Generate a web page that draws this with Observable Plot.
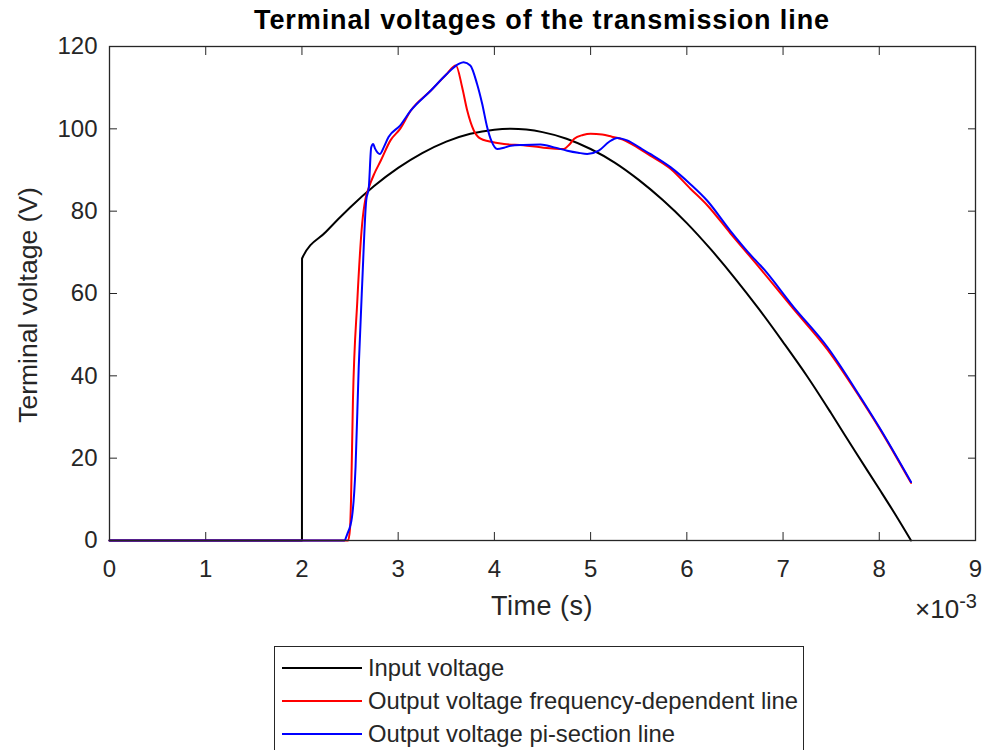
<!DOCTYPE html>
<html>
<head>
<meta charset="utf-8">
<script src="https://cdn.jsdelivr.net/npm/d3@7"></script>
<script src="https://cdn.jsdelivr.net/npm/@observablehq/plot@0.6"></script>
<style>
  body { margin: 0; background: #fff; }
  #wrap { position: relative; width: 984px; height: 750px; overflow: hidden; background: #fff;
          font-family: "Liberation Sans", Arial, Helvetica, sans-serif; color: #262626; }
  #chart { position: absolute; left: 0; top: 0; }
  .lbl { position: absolute; line-height: 1; white-space: nowrap; transform: translate(-50%, -50%); }
  #title { font-weight: bold; font-size: 27px; letter-spacing: 0.9px; color: #000; }
  #xlab { font-size: 27px; letter-spacing: 0.5px; }
  #ylab { font-size: 26.5px; transform: translate(-50%, -50%) rotate(-90deg); }
  #mult { font-size: 26px; transform: translate(-100%, -50%); }
  #mult sup { font-size: 20px; position: relative; top: -1px; }
  #legend { position: absolute; left: 274px; top: 646px; width: 530px; height: 110px;
            border: 1px solid #262626; background: #fff; box-sizing: border-box; }
  .item { position: absolute; left: 0; height: 0; }
  .swatch { position: absolute; left: 7px; width: 80px; top: -1px; height: 0; border-top: 2px solid; }
  .itxt { position: absolute; left: 93px; top: 0; transform: translateY(-52%); font-size: 23.8px;
          line-height: 1; white-space: nowrap; color: #262626; }
</style>
</head>
<body>
<div id="wrap">
  <div id="chart"></div>
  <div id="title" class="lbl"></div>
  <div id="xlab" class="lbl"></div>
  <div id="ylab" class="lbl"></div>
  <div id="mult" class="lbl">×10<sup>-3</sup></div>
  <div id="legend"></div>
</div>
<script>
// ---- data (time in units of 10^-3 s, voltage in V) ----
const titleText = "Terminal voltages of the transmission line";
const xLabel = "Time (s)";
const yLabel = "Terminal voltage (V)";
const seriesNames = ["Input voltage", "Output voltage frequency-dependent line", "Output voltage pi-section line"];
const seriesColors = ["#000000", "#ff0000", "#0000ff"];
const xTicks = [0, 1, 2, 3, 4, 5, 6, 7, 8, 9];
const yTicks = [0, 20, 40, 60, 80, 100, 120];

const inputTime = [0, 2, 2.001, 2.25, 2.5, 2.75, 3, 3.25, 3.5, 3.75, 4, 4.17, 4.5, 4.75, 5, 5.25, 5.5, 5.75, 6, 6.25, 6.5, 6.75, 7, 7.25, 7.5, 7.75, 8, 8.17, 8.33];
const inputVolt = [0, 0, 68.5, 75.0, 80.9, 86.1, 90.5, 94.1, 96.9, 98.8, 99.8, 100, 99.2, 97.6, 95.1, 91.8, 87.6, 82.7, 77.1, 70.7, 63.7, 56.2, 48.2, 39.9, 30.9, 21.6, 12.5, 6.2, 0];

const fdTime = [0, 2.48, 2.5, 2.51, 2.53, 2.575, 2.626, 2.66, 2.69, 2.75, 2.82, 2.92, 3.02, 3.13, 3.34, 3.5, 3.6, 3.665, 3.717, 3.786, 3.856, 3.94, 4.1, 4.3, 4.48, 4.72, 4.78, 4.83, 4.92, 5.0, 5.12, 5.22, 5.31, 5.45, 5.62, 5.83, 6.04, 6.21, 6.45, 6.70, 7.11, 7.46, 7.805, 8.0, 8.33];
const fdVolt = [0, 0, 3, 9.7, 34, 58, 77, 83, 85.4, 89, 92.3, 97.2, 100, 104.4, 109.3, 113.2, 115.4, 110.1, 104.5, 99.6, 97.6, 97, 96.3, 96, 95.5, 95.1, 96.2, 97.6, 98.5, 98.8, 98.6, 98.1, 97.6, 96, 93.5, 90.3, 85.4, 81.5, 74.7, 67.8, 56.2, 46.4, 34.5, 27.3, 14.0];

const piTime = [0, 2.44, 2.47, 2.52, 2.557, 2.59, 2.626, 2.668, 2.695, 2.72, 2.74, 2.76, 2.81, 2.85, 2.90, 3.02, 3.13, 3.34, 3.5, 3.63, 3.68, 3.75, 3.82, 3.873, 3.925, 3.97, 4.03, 4.1, 4.17, 4.3, 4.48, 4.62, 4.757, 4.87, 4.965, 5.085, 5.19, 5.276, 5.38, 5.52, 5.62, 5.83, 6.04, 6.21, 6.45, 6.70, 6.766, 7.11, 7.46, 7.805, 8.0, 8.33];
const piVolt = [0, 0, 1.5, 5.7, 17.8, 42.1, 62.3, 82.6, 85.8, 95.5, 96.3, 95.2, 93.9, 95.5, 98, 100.8, 104.4, 109.3, 113.2, 115.8, 116.2, 115.4, 110.9, 106.1, 100.4, 97, 95.1, 95.4, 95.9, 96.1, 96.2, 95.5, 94.7, 94.2, 93.9, 94.7, 96.8, 97.8, 97.2, 95.3, 93.9, 90.7, 86.5, 82.6, 75.3, 68.4, 66.8, 56.7, 47, 34.8, 27.5, 14.2];

// ---- build table ----
const rows = [];
[[inputTime, inputVolt], [fdTime, fdVolt], [piTime, piVolt]].forEach(([ts, vs], i) => {
  ts.forEach((t, j) => rows.push({t, v: vs[j], s: seriesNames[i]}));
});

const axisColor = "#262626";
const chart = Plot.plot({
  width: 984,
  height: 640,
  marginLeft: 109,
  marginRight: 9,
  marginTop: 46,
  marginBottom: 100,
  style: {fontFamily: "'Liberation Sans', Arial, sans-serif", fontSize: "24px", color: axisColor, background: "white", overflow: "visible"},
  x: {domain: [0, 9]},
  y: {domain: [0, 120]},
  color: {domain: seriesNames, range: seriesColors},
  marks: [
    Plot.axisX({anchor: "bottom", ticks: xTicks, tickSize: -8, tickPadding: 27, label: null, stroke: axisColor, fill: axisColor}),
    Plot.axisX({anchor: "top", ticks: xTicks, tickSize: -8, fill: "none", label: null, stroke: axisColor}),
    Plot.axisY({anchor: "left", ticks: yTicks, tickSize: -8, tickPadding: 20, label: null, stroke: axisColor, fill: axisColor}),
    Plot.axisY({anchor: "right", ticks: yTicks, tickSize: -8, fill: "none", label: null, stroke: axisColor}),
    Plot.line(rows, {x: "t", y: "v", z: "s", stroke: "s", strokeWidth: 2, curve: "monotone-x"}),
    Plot.frame({stroke: axisColor, strokeWidth: 1.3})
  ]
});
document.getElementById("chart").appendChild(chart);

// ---- text labels ----
function place(id, text, x, y) {
  const el = document.getElementById(id);
  if (text !== null) el.textContent = text;
  el.style.left = x + "px";
  el.style.top = y + "px";
}
place("title", titleText, 542, 20);
place("xlab", xLabel, 542, 606);
place("ylab", yLabel, 28, 305);
place("mult", null, 977, 607);

// ---- legend ----
const legend = document.getElementById("legend");
seriesNames.forEach((name, i) => {
  const item = document.createElement("div");
  item.className = "item";
  item.style.top = (21 + 33 * i) + "px";
  const sw = document.createElement("div");
  sw.className = "swatch";
  sw.style.borderTopColor = seriesColors[i];
  const tx = document.createElement("div");
  tx.className = "itxt";
  tx.textContent = name;
  item.appendChild(sw);
  item.appendChild(tx);
  legend.appendChild(item);
});
</script>
</body>
</html>
